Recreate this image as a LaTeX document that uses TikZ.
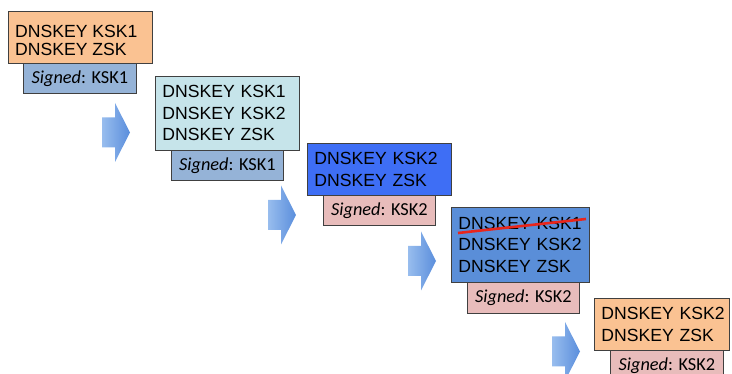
\documentclass[tikz,border=0pt]{standalone}
\usepackage{fontspec}
\setmainfont{Liberation Sans}
\newfontfamily\signfont{Carlito}
\definecolor{orangebox}{HTML}{FAC292}
\definecolor{aquabox}{HTML}{C6E4EA}
\definecolor{steelbox}{HTML}{95B3D7}
\definecolor{brightblue}{HTML}{3E6EF5}
\definecolor{midblue}{HTML}{5A8ED8}
\definecolor{pinkbox}{HTML}{E8BCBB}
\definecolor{edgegray}{HTML}{404040}
\definecolor{arrowlight}{HTML}{98BDEE}
\definecolor{arrowdark}{HTML}{5A8EDC}
\definecolor{strikered}{HTML}{E8261C}
\begin{document}
\begin{tikzpicture}[x=1pt,y=-1pt,
  keybox/.style={draw=edgegray, line width=0.8pt, anchor=north west, align=left,
    inner xsep=7pt, inner ysep=0pt,
    font=\fontsize{17.6}{21.5}\selectfont},
  keytext/.style={anchor=west, align=left, inner sep=0pt,
    font=\fontsize{17.6}{18}\selectfont},
  signbox/.style={draw=edgegray, line width=0.8pt, anchor=north west, align=center,
    inner sep=0pt, font=\signfont\fontsize{18.3}{20}\selectfont},
  barrow/.pic={
    \shade[left color=arrowlight, right color=arrowdark]
      (0,-15) -- (13,-15) -- (13,-29.5) -- (28,0) -- (13,29.5) -- (13,15) -- (0,15) -- cycle;
  }]
\useasboundingbox (0,0) rectangle (732,374);

% stage 1
\node[signbox, fill=steelbox, minimum width=113, minimum height=30] (s1) at (23,63) {\raisebox{-2pt}{\textit{Signed}: KSK1}};
\node[keybox, fill=orangebox, minimum width=144, minimum height=52] (b1) at (8,11) {};
\node[keytext] (b1t) at ([xshift=7pt, yshift=-3pt]b1.west) {DNSKEY KSK1\\DNSKEY ZSK};
\pic at (102,132.5) {barrow};

% stage 2
\node[signbox, fill=steelbox, minimum width=112, minimum height=30] (s2) at (171,150) {\raisebox{-2pt}{\textit{Signed}: KSK1}};
\node[keybox, fill=aquabox, text width=130, minimum height=74] (b2) at (155,76) {DNSKEY KSK1\\DNSKEY KSK2\\DNSKEY ZSK};
\pic at (268,215) {barrow};

% stage 3
\node[signbox, fill=pinkbox, minimum width=112, minimum height=30] (s3) at (323,195) {\raisebox{-2pt}{\textit{Signed}: KSK2}};
\node[keybox, fill=brightblue, text width=130, minimum height=52] (b3) at (307,143) {DNSKEY KSK2\\DNSKEY ZSK};
\pic at (408,261) {barrow};

% stage 4
\node[signbox, fill=pinkbox, minimum width=112, minimum height=31] (s4) at (467,282) {\raisebox{-2pt}{\textit{Signed}: KSK2}};
\node[keybox, fill=midblue, text width=124, minimum height=75] (b4) at (451,207) {DNSKEY KSK1\\DNSKEY KSK2\\DNSKEY ZSK};
\coordinate (strikeA) at (458,233);
\coordinate (strikeB) at (586,219);
\draw[strikered, line width=2.6pt] (strikeA) -- (strikeB);
\pic at (552,351.5) {barrow};

% stage 5
\node[signbox, fill=pinkbox, minimum width=113, minimum height=30] (s5) at (610,350) {\raisebox{-2pt}{\textit{Signed}: KSK2}};
\node[keybox, fill=orangebox, text width=121, minimum height=52] (b5) at (594,298) {\mbox{DNSKEY KSK2}\\\mbox{DNSKEY ZSK}};
\end{tikzpicture}
\end{document}
